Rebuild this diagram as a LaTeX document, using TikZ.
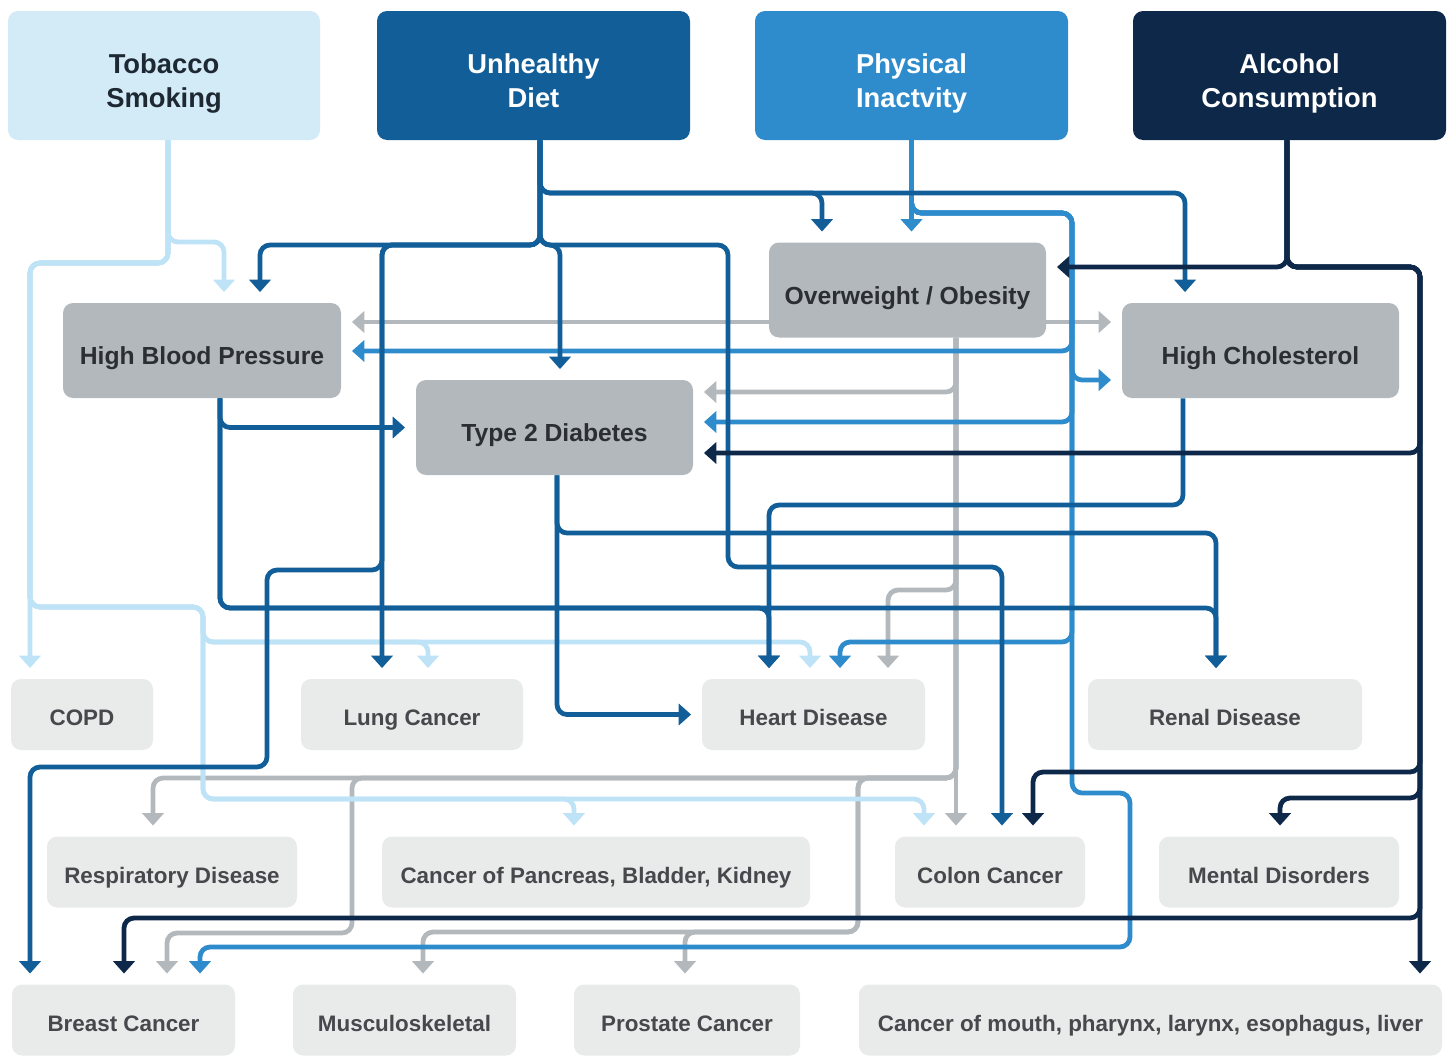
\documentclass[tikz,border=0pt]{standalone}
\usepackage{fontspec}
\setmainfont{Liberation Sans}
\usetikzlibrary{arrows.meta}

\definecolor{tobfill}{HTML}{D3EAF7}
\definecolor{tobline}{HTML}{BEE2F6}
\definecolor{tobtext}{HTML}{1E2833}
\definecolor{dietblue}{HTML}{115E99}
\definecolor{physblue}{HTML}{2E8BCC}
\definecolor{alcnavy}{HTML}{0E284A}
\definecolor{condgray}{HTML}{B3B8BD}
\definecolor{condtext}{HTML}{2B2F34}
\definecolor{disfill}{HTML}{E9EAEA}
\definecolor{distext}{HTML}{46494C}

\newcommand\pxu{0.5669pt}
% two text lines of a risk factor box, set a little below the middle
\newcommand\twolines[2]{\rule{0pt}{21pt}#1\\#2\rule[-4pt]{0pt}{0pt}}

\tikzset{
  factor/.style={rounded corners=5.7pt, inner sep=0pt, align=center, text=white,
    minimum height=129*\pxu, font=\fontsize{15.5}{19.8}\selectfont\bfseries},
  condition/.style={rounded corners=5.7pt, inner sep=0pt, fill=condgray, text=condtext,
    minimum height=95*\pxu, text height=16.4pt, text depth=0pt,
    font=\fontsize{14}{17}\selectfont\bfseries},
  disease/.style={rounded corners=5.7pt, inner sep=0pt, fill=disfill, text=distext,
    minimum height=71*\pxu, text height=12.5pt, text depth=0pt,
    font=\fontsize{12.7}{15}\selectfont\bfseries},
  link/.style={line width=2.7pt, rounded corners=5.7pt,
    -{Triangle[width=12pt,length=7pt]}, shorten >=6pt},
}

\begin{document}
\begin{tikzpicture}[x=\pxu, y=-\pxu]
\useasboundingbox (0,0) rectangle (1453,1055);
% Risk factors
\node[factor, fill=tobfill, text=tobtext, minimum width=312*\pxu] (tob) at (164,75.5) {\twolines{Tobacco}{Smoking}};
\node[factor, fill=dietblue, minimum width=313*\pxu] (diet) at (533.5,75.5) {\twolines{Unhealthy}{Diet}};
\node[factor, fill=physblue, minimum width=313*\pxu] (phys) at (911.5,75.5) {\twolines{Physical}{Inactvity}};
\node[factor, fill=alcnavy, minimum width=313*\pxu] (alc) at (1289.5,75.5) {\twolines{Alcohol}{Consumption}};
% Intermediate conditions
\node[condition, minimum width=277*\pxu] (obes) at (907.5,290) {Overweight / Obesity};
\node[condition, minimum width=278*\pxu] (hbp) at (202,350.5) {High Blood Pressure};
\node[condition, minimum width=277*\pxu] (chol) at (1260.5,350.5) {High Cholesterol};
\node[condition, minimum width=277*\pxu] (diab) at (554.5,427.5) {Type 2 Diabetes};
% Diseases
\node[disease, minimum width=142*\pxu] (copd) at (82,714.5) {COPD};
\node[disease, minimum width=222*\pxu] (lung) at (412,714.5) {Lung Cancer};
\node[disease, minimum width=223*\pxu] (heart) at (813.5,714.5) {Heart Disease};
\node[disease, minimum width=274*\pxu] (renal) at (1225,714.5) {Renal Disease};
\node[disease, minimum width=250*\pxu] (resp) at (172,872) {Respiratory Disease};
\node[disease, minimum width=428*\pxu] (panc) at (596,872) {Cancer of Pancreas, Bladder, Kidney};
\node[disease, minimum width=190*\pxu] (colon) at (990,872) {Colon Cancer};
\node[disease, minimum width=240*\pxu] (mental) at (1279,872) {Mental Disorders};
\node[disease, minimum width=223*\pxu] (breast) at (123.5,1020) {Breast Cancer};
\node[disease, minimum width=223*\pxu] (musc) at (404.5,1020) {Musculoskeletal};
\node[disease, minimum width=226*\pxu] (prost) at (687,1020) {Prostate Cancer};
\node[disease, minimum width=583*\pxu] (mouth) at (1150.5,1020) {Cancer of mouth, pharynx, larynx, esophagus, liver};

% Overweight / obesity links
\draw[link, condgray] (obes.west |- 0,322) -- (hbp.east |- 0,322);
\draw[link, condgray] (obes.east |- 0,322) -- (chol.west |- 0,322);
\draw[link, condgray] (obes.south -| 956,0) |- (diab.east |- 0,392);
\draw[link, condgray] (obes.south -| 956,0) |- (888,590) -- (888,0 |- heart.north);
\draw[link, condgray] (obes.south -| 956,0) -- (956,0 |- colon.north);
\draw[link, condgray] (obes.south -| 956,0) |- (153,778) -- (153,0 |- resp.north);
\draw[link, condgray] (obes.south -| 956,0) |- (352,778) |- (167,933) -- (167,0 |- breast.north);
\draw[link, condgray] (obes.south -| 956,0) |- (858,778) |- (423,932) -- (423,0 |- musc.north);
\draw[link, condgray] (obes.south -| 956,0) |- (858,778) |- (685,932) -- (685,0 |- prost.north);

% Tobacco links
\draw[link, tobline] (tob.south -| 168,0) |- (224,242) -- (224,0 |- hbp.north);
\draw[link, tobline] (tob.south -| 168,0) |- (30,263) -- (30,0 |- copd.north);
\draw[link, tobline] (tob.south -| 168,0) |- (30,263) |- (203,607) |- (428,642) -- (428,0 |- lung.north);
\draw[link, tobline] (tob.south -| 168,0) |- (30,263) |- (203,607) |- (810,642) -- (810,0 |- heart.north);
\draw[link, tobline] (tob.south -| 168,0) |- (30,263) |- (203,607) |- (574,799) -- (574,0 |- panc.north);
\draw[link, tobline] (tob.south -| 168,0) |- (30,263) |- (203,607) |- (924,799) -- (924,0 |- colon.north);

% Physical inactivity links
\draw[link, physblue] (phys.south) -- (phys.south |- obes.north);
\draw[link, physblue] (phys.south) |- (1072,213) |- (hbp.east |- 0,351);
\draw[link, physblue] (phys.south) |- (1072,213) |- (chol.west |- 0,380);
\draw[link, physblue] (phys.south) |- (1072,213) |- (diab.east |- 0,422);
\draw[link, physblue] (phys.south) |- (1072,213) |- (840,642) -- (840,0 |- heart.north);
\draw[link, physblue] (phys.south) |- (1072,213) |- (1130,793) |- (200,947) -- (200,0 |- breast.north);

% Unhealthy diet links
\draw[link, dietblue] (diet.south -| 540,0) |- (822,193) -- (822,0 |- obes.north);
\draw[link, dietblue] (diet.south -| 540,0) |- (1185,193) -- (1185,0 |- chol.north);
\draw[link, dietblue] (diet.south -| 540,0) |- (260,245) -- (260,0 |- hbp.north);
\draw[link, dietblue] (diet.south -| 540,0) |- (560,245) -- (560,0 |- diab.north);
\draw[link, dietblue] (diet.south -| 540,0) |- (382,245) -- (382,0 |- lung.north);
\draw[link, dietblue] (diet.south -| 540,0) |- (382,245) |- (267,570) |- (30,767) -- (30,0 |- breast.north);
\draw[link, dietblue] (diet.south -| 540,0) |- (728,245) |- (1002,567) -- (1002,0 |- colon.north);
% High blood pressure links
\draw[link, dietblue] (hbp.south -| 220,0) |- (diab.west);
\draw[link, dietblue] (hbp.south -| 220,0) |- (769,608) -- (769,0 |- heart.north);
\draw[link, dietblue] (hbp.south -| 220,0) |- (1216,608) -- (1216,0 |- renal.north);
% Type 2 diabetes links
\draw[link, dietblue] (diab.south -| 557,0) |- (heart.west);
\draw[link, dietblue] (diab.south -| 557,0) |- (1216,533) -- (1216,0 |- renal.north);
% High cholesterol link
\draw[link, dietblue] (chol.south -| 1183,0) |- (769,505) -- (769,0 |- heart.north);

% Alcohol links
\draw[link, alcnavy] (alc.south -| 1287,0) |- (obes.east |- 0,267);
\draw[link, alcnavy] (alc.south -| 1287,0) |- (1420,267) -- (1420,0 |- mouth.north);
\draw[link, alcnavy] (alc.south -| 1287,0) |- (1420,267) |- (diab.east |- 0,453);
\draw[link, alcnavy] (alc.south -| 1287,0) |- (1420,267) |- (1033,772) -- (1033,0 |- colon.north);
\draw[link, alcnavy] (alc.south -| 1287,0) |- (1420,267) |- (1280,798) -- (1280,0 |- mental.north);
\draw[link, alcnavy] (alc.south -| 1287,0) |- (1420,267) |- (124,918) -- (124,0 |- breast.north);
\end{tikzpicture}
\end{document}
